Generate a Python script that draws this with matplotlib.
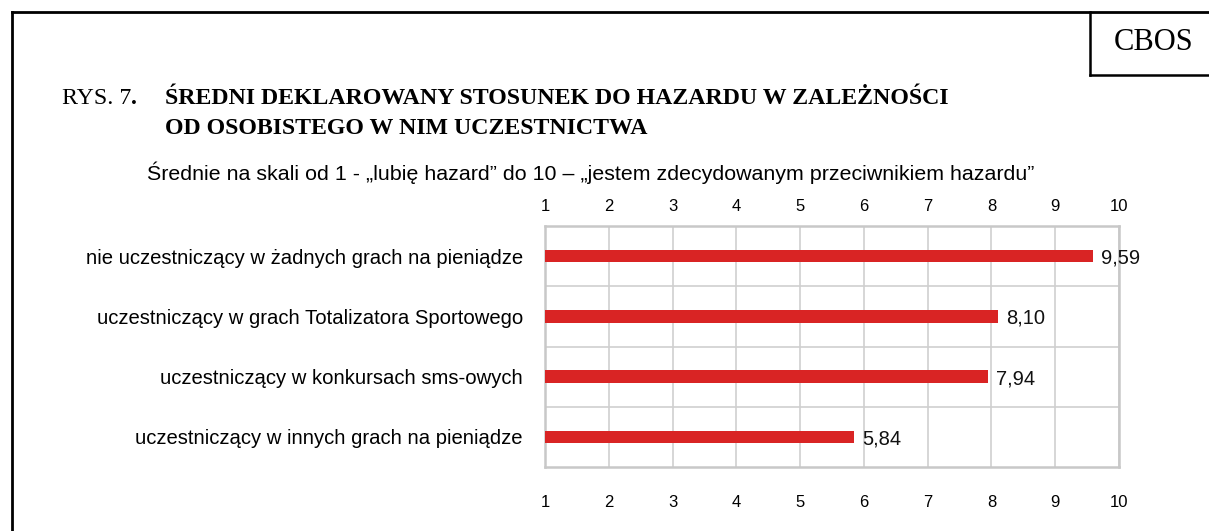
import matplotlib
matplotlib.use("Agg")
import matplotlib.pyplot as plt
from matplotlib.lines import Line2D

categories = [
    "nie uczestniczący w żadnych grach na pieniądze",
    "uczestniczący w grach Totalizatora Sportowego",
    "uczestniczący w konkursach sms-owych",
    "uczestniczący w innych grach na pieniądze",
]
values = [9.59, 8.10, 7.94, 5.84]
value_labels = ["9,59", "8,10", "7,94", "5,84"]
ticks = [1, 2, 3, 4, 5, 6, 7, 8, 9, 10]

W, H = 1209, 531
fig = plt.figure(figsize=(W / 100, H / 100), dpi=100)

def fx(px):
    return px / W

def fy(py):
    return 1 - py / H

SANS = ["Liberation Sans", "DejaVu Sans"]
SERIF = ["Liberation Serif", "DejaVu Serif"]

# Axes area
left, right, top, bottom = 545, 1119, 226, 467
ax = fig.add_axes([fx(left), fy(bottom), fx(right - left), (bottom - top) / H])

n = len(categories)
ypos = list(range(n))
bar_color = "#d92424"
ax.barh(ypos, [v - 1 for v in values], left=1, height=0.21, color=bar_color, zorder=3)
for y, v, lab in zip(ypos, values, value_labels):
    ax.annotate(lab, (v, y), xytext=(6, -1.5), textcoords="offset points",
                ha="left", va="center", fontsize=14.5, family=SANS, color="#111111", zorder=4)

ax.set_xlim(1, 10)
ax.set_ylim(n - 0.5, -0.5)
ax.set_xticks(ticks)
ax.set_xticklabels([str(t) for t in ticks])
ax.set_yticks([y + 0.5 for y in ypos[:-1]], minor=True)
ax.set_yticks(ypos)
ax.set_yticklabels(categories)
ax.grid(True, axis="x", which="major", color="#cfcfcf", linewidth=1.2, zorder=0)
ax.grid(True, axis="y", which="minor", color="#cfcfcf", linewidth=1.2, zorder=0)
ax.tick_params(axis="x", which="both", length=0, labeltop=False, labelbottom=True,
               pad=20, labelsize=12)
ax.tick_params(axis="y", which="both", length=0, pad=16, labelsize=14.6)
for lab in ax.get_xticklabels() + ax.get_yticklabels():
    lab.set_family(SANS)
for s in ax.spines.values():
    s.set_color("#c8c8c8")
    s.set_linewidth(1.8)

# top tick labels on a secondary axis (different spacing than bottom)
sec = ax.secondary_xaxis("top")
sec.set_xticks(ticks)
sec.set_xticklabels([str(t) for t in ticks])
sec.tick_params(length=0, pad=8.5, labelsize=12)
for lab in sec.get_xticklabels():
    lab.set_family(SANS)
sec.spines["top"].set_visible(False)

# Frame lines
fig.add_artist(Line2D([fx(12), fx(12)], [fy(12), fy(H)], color="black", lw=2, transform=fig.transFigure))
fig.add_artist(Line2D([fx(12), fx(W)], [fy(12), fy(12)], color="black", lw=2, transform=fig.transFigure))
fig.add_artist(Line2D([fx(1090), fx(1090)], [fy(12), fy(75)], color="black", lw=1.8, transform=fig.transFigure))
fig.add_artist(Line2D([fx(1090), fx(W)], [fy(75), fy(75)], color="black", lw=1.8, transform=fig.transFigure))
fig.text(fx(1154), fy(43), "CBOS", ha="center", va="center", fontsize=22, family=SERIF)

# Titles
TS = 17.2
t1 = fig.text(fx(62), fy(98), "RYS. 7", ha="left", va="center", fontsize=TS, family=SERIF)
fig.canvas.draw()
bb = t1.get_window_extent(fig.canvas.get_renderer())
fig.text(bb.x1 / fig.bbox.width, fy(98), ".", ha="left", va="center", fontsize=TS,
         family=SERIF, weight="bold")
fig.text(fx(165), fy(98), "ŚREDNI DEKLAROWANY STOSUNEK DO HAZARDU W ZALEŻNOŚCI",
         ha="left", va="center", fontsize=TS, family=SERIF, weight="bold")
fig.text(fx(165), fy(129), "OD OSOBISTEGO W NIM UCZESTNICTWA",
         ha="left", va="center", fontsize=TS, family=SERIF, weight="bold")
fig.text(fx(591), fy(173),
         "Średnie na skali od 1 - „lubię hazard” do 10 – „jestem zdecydowanym przeciwnikiem hazardu”",
         ha="center", va="center", fontsize=15.4, family=SANS)

fig.savefig("out.png", dpi=100, facecolor="white")
